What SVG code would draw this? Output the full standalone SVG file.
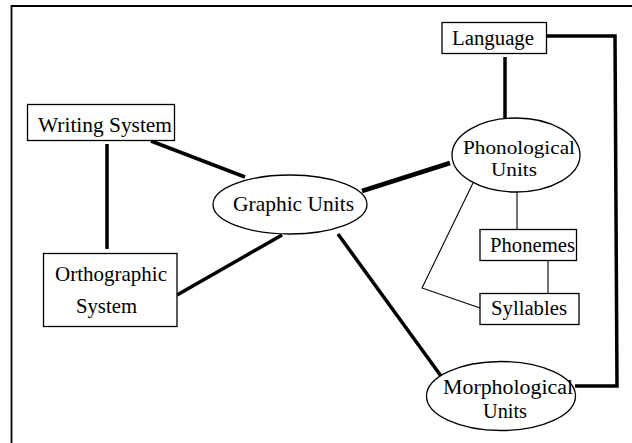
<svg xmlns="http://www.w3.org/2000/svg" width="632" height="443" viewBox="0 0 632 443">
<style>
.box{fill:#fff;stroke:#000;stroke-width:1.3}
.ell{fill:#fff;stroke:#000;stroke-width:1.3}
.t{font-family:"Liberation Serif","Times New Roman",serif;fill:#000}
.thick{fill:none;stroke:#000;stroke-width:3.5}
.thin{fill:none;stroke:#000;stroke-width:1.1}
</style>
<rect x="0" y="0" width="632" height="443" fill="#fff"/>
<path d="M11.5,443 V6 H632" fill="none" stroke="#000" stroke-width="1.8"/>
<g id="connectors">
<line class="thick" x1="107" y1="144" x2="107" y2="249"/>
<line class="thick" x1="151" y1="141" x2="245" y2="177"/>
<line class="thick" x1="282" y1="235" x2="177" y2="295"/>
<line class="thick" x1="362" y1="191" x2="450" y2="163" style="stroke-width:4.5"/>
<line class="thick" x1="338" y1="234" x2="441" y2="376"/>
<line class="thick" x1="505" y1="57" x2="505" y2="118"/>
<polyline class="thick" points="547,36 615,36 617,386 575,386"/>
<line class="thin" x1="517" y1="192" x2="517" y2="229"/>
<line class="thin" x1="548" y1="261" x2="548" y2="293"/>
<polyline class="thin" points="473,183 422,288 480,308"/>
</g>
<g id="language">
<rect class="box" x="442" y="22.5" width="104.5" height="31"/>
<text class="t" x="452" y="45" font-size="20" textLength="82" lengthAdjust="spacingAndGlyphs">Language</text>
</g>
<g id="writing-system">
<rect class="box" x="27.5" y="104.5" width="147" height="36"/>
<text class="t" x="38" y="132" font-size="21" textLength="134" lengthAdjust="spacingAndGlyphs">Writing System</text>
</g>
<g id="orthographic-system">
<rect class="box" x="43.5" y="253.5" width="133.5" height="73"/>
<text class="t" x="55" y="281" font-size="22" textLength="112" lengthAdjust="spacingAndGlyphs">Orthographic</text>
<text class="t" x="76" y="313" font-size="22" textLength="61" lengthAdjust="spacingAndGlyphs">System</text>
</g>
<g id="graphic-units">
<ellipse class="ell" cx="290" cy="204.5" rx="77" ry="29.5"/>
<text class="t" x="233" y="211" font-size="22" textLength="121" lengthAdjust="spacingAndGlyphs">Graphic Units</text>
</g>
<g id="phonological-units">
<ellipse class="ell" cx="516" cy="155" rx="64" ry="37"/>
<text class="t" x="463" y="154" font-size="19" textLength="112" lengthAdjust="spacingAndGlyphs">Phonological</text>
<text class="t" x="491" y="176" font-size="19" textLength="46" lengthAdjust="spacingAndGlyphs">Units</text>
</g>
<g id="phonemes">
<rect class="box" x="480" y="229.5" width="96.5" height="31"/>
<text class="t" x="490" y="252" font-size="20" textLength="85" lengthAdjust="spacingAndGlyphs">Phonemes</text>
</g>
<g id="syllables">
<rect class="box" x="480" y="293.5" width="99" height="31"/>
<text class="t" x="491" y="315" font-size="20" textLength="76" lengthAdjust="spacingAndGlyphs">Syllables</text>
</g>
<g id="morphological-units">
<ellipse class="ell" cx="501" cy="396" rx="74.5" ry="34.5"/>
<text class="t" x="443" y="394" font-size="20" textLength="130" lengthAdjust="spacingAndGlyphs">Morphological</text>
<text class="t" x="483" y="418" font-size="20" textLength="44" lengthAdjust="spacingAndGlyphs">Units</text>
</g>
</svg>
